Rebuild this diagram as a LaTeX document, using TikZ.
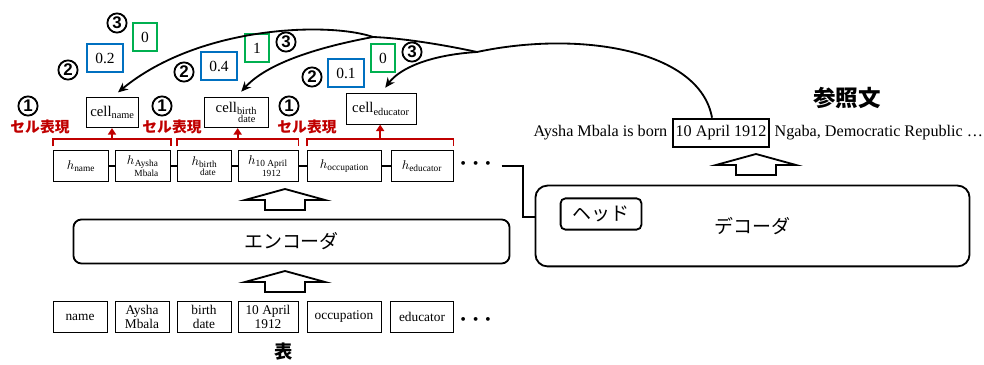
\documentclass[tikz,border=0pt]{standalone}
\usepackage{fontspec}
\usepackage{amsmath}
\setmainfont{Liberation Serif}
\setsansfont{Liberation Sans}
\newfontfamily\jpfont{Noto Sans CJK JP}
\usetikzlibrary{arrows.meta, calc}
\definecolor{cellred}{RGB}{192,0,0}
\definecolor{scoreblue}{RGB}{0,112,192}
\definecolor{scoregreen}{RGB}{0,176,80}

\begin{document}
\begin{tikzpicture}[
    x=0.025cm, y=-0.025cm,
    tok/.style={draw, line width=0.6pt, inner sep=1pt, minimum height=0.76cm, align=center, font=\fontsize{9.5}{10}\selectfont},
    cellbox/.style={draw, line width=0.6pt, inner sep=1pt, minimum height=0.76cm, font=\fontsize{10.5}{11}\selectfont},
    score/.style={draw, line width=1.3pt, inner sep=1pt, minimum height=0.68cm, font=\fontsize{11}{12}\selectfont},
    num/.style={circle, draw, line width=1.3pt, inner sep=0pt, minimum size=0.48cm, font=\sffamily\bfseries\fontsize{12}{12}\selectfont},
    redlbl/.style={text=cellred, font=\jpfont\bfseries\fontsize{10.5}{11}\selectfont},
    coder/.style={draw, line width=1.3pt, font=\jpfont\fontsize{13.5}{14}\selectfont},
    bracket/.style={cellred, line width=1.3pt},
    redarrow/.style={cellred, line width=1.3pt, -{Triangle[length=1.6mm, width=2mm]}},
    link/.style={line width=1.3pt},
    curve/.style={line width=1.3pt, -{Stealth[length=2.5mm, width=2.2mm]}, shorten >=5pt},
    sent/.style={inner sep=1pt, font=\fontsize{11.5}{12}\selectfont},
    blockup/.pic={\draw[line width=1.3pt] (-20,21) -- (-20,11) -- (-40,11) -- (0,0) -- (40,11) -- (20,11) -- (20,21) -- cycle;}
]
    \useasboundingbox (0,0) rectangle (984,365);

    % Table
    \node[tok, minimum width=1.35cm] (tname) at (80,317) {name};
    \node[tok, minimum width=1.35cm] (taysha) at (142,317) {Aysha\\Mbala};
    \node[tok, minimum width=1.35cm] (tbirth) at (204,317) {birth\\date};
    \node[tok, minimum width=1.5cm] (tapril) at (268,317) {10 April\\1912};
    \node[tok, minimum width=1.85cm] (tocc) at (344,317) {occupation};
    \node[tok, minimum width=1.58cm] (tedu) at (422,317) {educator};
    \node[font=\LARGE\boldmath] (tdots) at (478,320) {$\cdots$};
    \node[font=\jpfont\bfseries\fontsize{13}{14}\selectfont] (table) at (284,352) {表};

    % Encoder
    \pic at (285,271) {blockup};
    \node[coder, rounded corners=0.2cm, minimum width=10.9cm, minimum height=1.1cm] (encoder) at (291.5,241.5) {エンコーダ};
    \pic at (285,189) {blockup};

    % Hidden states
    \node[tok, minimum width=1.38cm] (hname) at (81,166) {$h_{\text{name}}$};
    \node[tok, minimum width=1.38cm] (haysha) at (143,166) {$h_{\substack{\text{Aysha}\\\text{Mbala}}}$};
    \node[tok, minimum width=1.36cm] (hbirth) at (204.5,166) {$h_{\substack{\text{birth}\\\text{date}}}$};
    \node[tok, minimum width=1.5cm] (hapril) at (268,166) {$h_{\substack{\text{10 April}\\\text{1912}}}$};
    \node[tok, minimum width=1.86cm] (hocc) at (344.5,166) {$h_{\text{occupation}}$};
    \node[tok, minimum width=1.55cm] (hedu) at (422,166) {$h_{\text{educator}}$};
    \node[font=\LARGE\boldmath] (hdots) at (478,164) {$\cdots$};
    \draw[link] (hname) -- (haysha);
    \draw[link] (haysha) -- (hbirth);
    \draw[link] (hbirth) -- (hapril);
    \draw[link] (hapril) -- (hocc);
    \draw[link] (hocc) -- (hedu);
    \draw[link] (hedu) -- (hdots.west |- hedu);

    % Cell representations
    \node[cellbox, minimum width=1.32cm] (cellname) at (112.5,112.5) {cell$_{\text{name}}$};
    \node[cellbox, minimum width=1.62cm] (cellbirth) at (236.5,112.5) {cell$_{\substack{\text{birth}\\\text{date}}}$};
    \node[cellbox, minimum width=1.75cm] (celledu) at (381,109) {cell$_{\text{educator}}$};

    \draw[bracket] ($(hname.north west)+(0,-4)$) -- ++(0,-7) -- coordinate (b1) ($(haysha.north east)+(0,-11)$) -- ++(0,7);
    \draw[bracket] ($(hbirth.north west)+(0,-4)$) -- ++(0,-7) -- coordinate (b2) ($(hapril.north east)+(0,-11)$) -- ++(0,7);
    \draw[bracket] ($(hocc.north west)+(0,-4)$) -- ++(0,-7) -- coordinate (b3) ($(hedu.north east)+(0,-11)$) -- ++(0,7);
    \draw[redarrow] (b1) -- (b1 |- cellname.south);
    \draw[redarrow] (b2) -- (b2 |- cellbirth.south);
    \draw[redarrow] (b3) -- (b3 |- celledu.south);

    \node[num] (n1a) at (28,106) {1};
    \node[num] (n1b) at (162,106) {1};
    \node[num] (n1c) at (289,106) {1};
    \node[redlbl] (rep1) at (40,127) {セル表現};
    \node[redlbl] (rep2) at (172,127) {セル表現};
    \node[redlbl] (rep3) at (307,127) {セル表現};

    % Scores
    \node[num] (n2a) at (68,70) {2};
    \node[score, draw=scoreblue, minimum width=0.9cm] (s1a) at (105,58) {0.2};
    \node[num] (n3a) at (117,23) {3};
    \node[score, draw=scoregreen, minimum width=0.6cm] (s1b) at (145,37) {0};
    \node[num] (n2b) at (184,72) {2};
    \node[score, draw=scoreblue, minimum width=0.92cm] (s2a) at (219,66) {0.4};
    \node[score, draw=scoregreen, minimum width=0.58cm] (s2b) at (257,48) {1};
    \node[num] (n3b) at (286,42) {3};
    \node[num] (n2c) at (312,77) {2};
    \node[score, draw=scoreblue, minimum width=0.92cm] (s3a) at (346,73) {0.1};
    \node[score, draw=scoregreen, minimum width=0.62cm] (s3b) at (383,58) {0};
    \node[num] (n3c) at (412,52) {3};

    % Decoder
    \node[coder, rounded corners=0.3cm, minimum width=10.85cm, minimum height=2.02cm] (decoder) at (752.5,226) {デコーダ};
    \node[coder, rounded corners=0.12cm, minimum width=2.02cm, minimum height=0.78cm] (head) at (601,214) {ヘッド};
    \coordinate (turn) at (523,166);
    \draw[link] (hdots.east |- hedu) -- (turn) |- ($(decoder.west)+(0,-9)$);
    \pic at (756,154) {blockup};

    % Reference sentence
    \node[font=\jpfont\bfseries\fontsize{16}{17}\selectfont] (reflabel) at (847,98) {参照文};
    \node[sent, anchor=east] (sentA) at (669,133) {Aysha Mbala is born};
    \node[sent, draw, line width=1.3pt, minimum width=2.4cm, minimum height=0.72cm] (sentbox) at (721,133) {10 April 1912};
    \node[sent, anchor=west] (sentC) at (773,133) {Ngaba, Democratic Republic …};

    % Copy arcs
    \coordinate (j1) at (477,52);
    \coordinate (j2) at (373,37);
    \draw[link] ($(sentbox.north)+(-9,0)$) .. controls (700,50) and (580,30) .. (j1);
    \draw[link] (j1) .. controls (440,44) and (400,38) .. (j2);
    \draw[curve] (j2) .. controls (330,22) and (200,25) .. (cellname.north);
    \draw[curve] (j2) .. controls (330,45) and (270,60) .. (cellbirth.north);
    \draw[curve] (j1) .. controls (430,55) and (400,68) .. (celledu.north);
\end{tikzpicture}
\end{document}
